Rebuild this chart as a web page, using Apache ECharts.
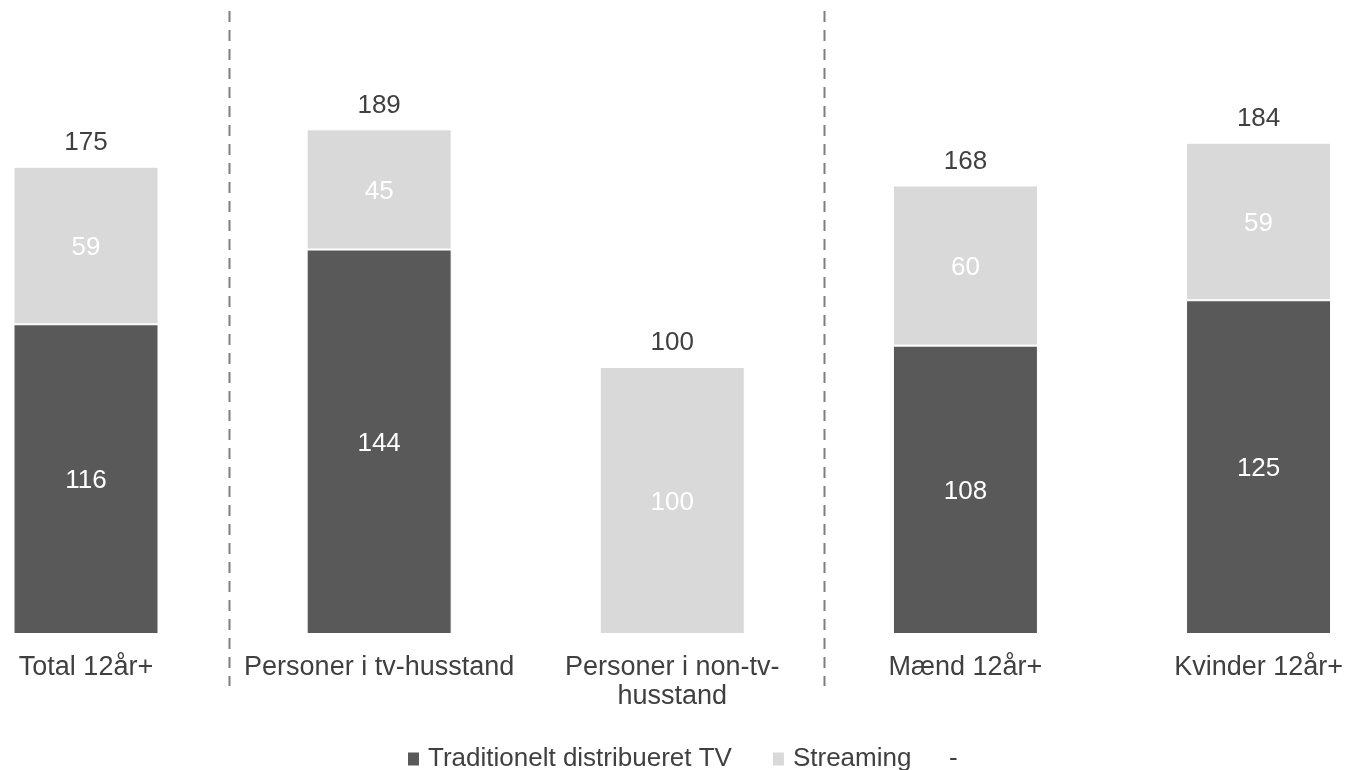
<!DOCTYPE html>
<html>
<head>
<meta charset="utf-8">
<title>Seertid fordelt på traditionelt TV og streaming</title>
<script src="https://cdn.jsdelivr.net/npm/echarts@6/dist/echarts.min.js"></script>
<style>
  html, body { margin: 0; padding: 0; background: #ffffff; }
  #chart { width: 1346px; height: 770px; }
</style>
</head>
<body>
<div id="chart"></div>
<script>
// Målgrupper (x-akse)
const categories = [
  'Total 12år+',
  'Personer i tv-husstand',
  'Personer i non-tv-\nhusstand',
  'Mænd 12år+',
  'Kvinder 12år+'
];

// Minutter pr. dag
const traditionalTV = [116, 144, 0, 108, 125];
const streaming = [59, 45, 100, 60, 59];

// Serienavne
const seriesNames = ['Traditionelt distribueret TV', 'Streaming', '-'];

// Samlet tid pr. målgruppe (vist over søjlerne)
const totals = categories.map((_, i) => traditionalTV[i] + streaming[i]);

const FONT = "'Liberation Sans', Arial, sans-serif";
const DARK = '#595959';
const LIGHT = '#d9d9d9';
const TEXT = '#404040';

const chart = echarts.init(document.getElementById('chart'), null, { renderer: 'canvas' });

const insideLabel = {
  show: true,
  position: 'inside',
  offset: [0, 2],
  color: '#ffffff',
  fontFamily: FONT,
  fontSize: 26,
  formatter: p => (p.value ? String(p.value) : '')
};

const legendText = { color: TEXT, fontFamily: FONT, fontSize: 26, padding: [0, 0, 0, 4] };

chart.setOption({
  animation: false,
  backgroundColor: '#ffffff',
  textStyle: { fontFamily: FONT },
  grid: { left: 86, right: 86.5, top: 100, bottom: 136, containLabel: false },
  xAxis: {
    type: 'category',
    data: categories,
    boundaryGap: false,
    axisLine: { show: false },
    axisTick: { show: false },
    splitLine: { show: false },
    axisLabel: {
      interval: 0,
      margin: 19,
      color: TEXT,
      fontFamily: FONT,
      fontSize: 27,
      lineHeight: 29
    }
  },
  yAxis: {
    type: 'value',
    min: 0,
    max: 200,
    show: false
  },
  legend: [
    {
      left: 408,
      top: 746,
      padding: 0,
      itemWidth: 11,
      itemHeight: 13,
      itemGap: 41,
      icon: 'rect',
      itemStyle: { borderWidth: 0 },
      textStyle: legendText,
      data: [seriesNames[0], seriesNames[1]]
    },
    {
      left: 940,
      top: 746,
      padding: 0,
      itemWidth: 0,
      itemHeight: 13,
      icon: 'none',
      textStyle: legendText,
      data: [seriesNames[2]]
    }
  ],
  graphic: [229.5, 824.5].map(x => ({
    type: 'line',
    silent: true,
    shape: { x1: x, y1: 11, x2: x, y2: 686 },
    style: { stroke: '#7f7f7f', lineWidth: 2, lineDash: [11, 8] }
  })),
  series: [
    {
      name: seriesNames[0],
      type: 'bar',
      stack: 'tid',
      barWidth: 145,
      clip: false,
      data: traditionalTV,
      itemStyle: { color: DARK, borderColor: '#ffffff', borderWidth: 1 },
      label: insideLabel
    },
    {
      name: seriesNames[1],
      type: 'bar',
      stack: 'tid',
      barWidth: 145,
      clip: false,
      data: streaming,
      itemStyle: { color: LIGHT, borderColor: '#ffffff', borderWidth: 1 },
      label: insideLabel
    },
    {
      name: seriesNames[2],
      type: 'bar',
      barWidth: 145,
      barGap: '-100%',
      clip: false,
      data: totals,
      z: 1,
      itemStyle: { color: 'rgba(0,0,0,0)' },
      label: {
        show: true,
        position: 'top',
        distance: 11,
        color: TEXT,
        fontFamily: FONT,
        fontSize: 26
      }
    }
  ]
});
</script>
</body>
</html>
